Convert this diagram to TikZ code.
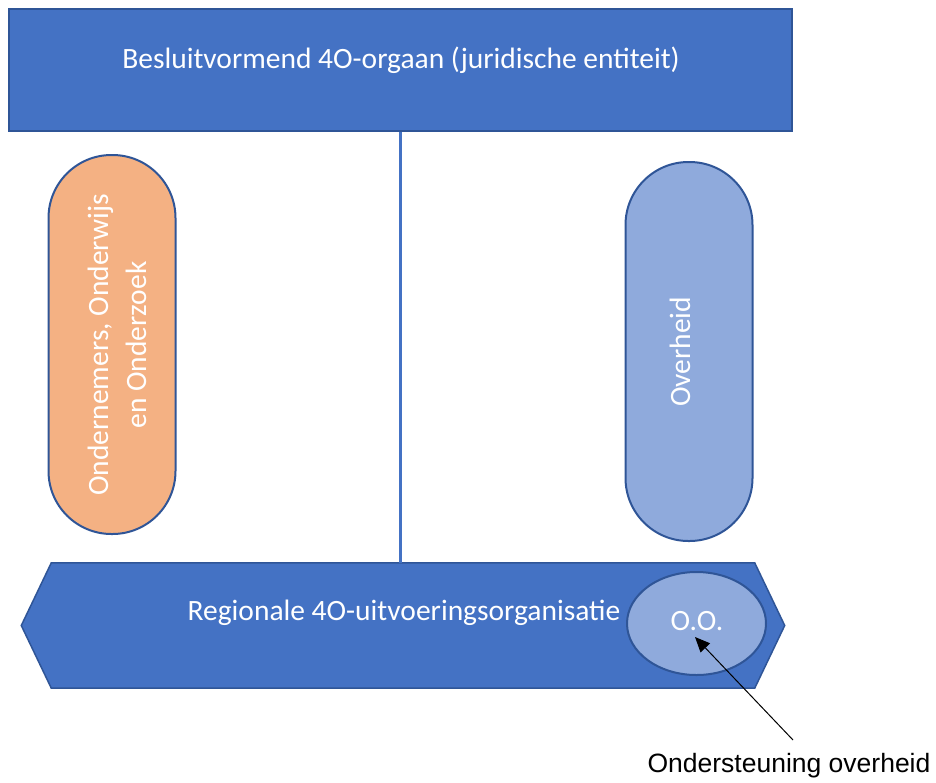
\documentclass[tikz,border=0pt]{standalone}
\usepackage{fontspec}
\usetikzlibrary{arrows.meta}
\setmainfont{Carlito}
\newfontfamily\arialf{Liberation Sans}
\definecolor{mainblue}{HTML}{4472C4}
\definecolor{darkblue}{HTML}{2F5597}
\definecolor{lightblue}{HTML}{8FAADC}
\definecolor{peach}{HTML}{F4B183}
\begin{document}
\begin{tikzpicture}[x=1pt,y=-1pt,
  boxstyle/.style={draw=darkblue, line width=1.5pt, fill=mainblue},
  pillstyle/.style={draw=darkblue, line width=2pt, minimum width=127pt, rounded corners=63pt, inner sep=0pt},
  wtext/.style={text=white, font=\fontsize{29.5}{38}\selectfont, align=center, inner sep=0pt},
  linkstyle/.style={draw=mainblue, line width=3.5pt}]
\useasboundingbox (0,0) rectangle (936,782);
% top box
\node[boxstyle, minimum width=783pt, minimum height=122pt, inner sep=0pt] (top) at (400.5,70) {};
\node[wtext] (toptxt) at (401,60) {Besluitvormend 4O-orgaan (juridische entiteit)};
% hexagon
\node[minimum width=763pt, minimum height=125pt, inner sep=0pt] (hex) at (403,625.5) {};
\draw[boxstyle] ([xshift=30pt]hex.north west) -- ([xshift=-30pt]hex.north east) -- (hex.east) -- ([xshift=-30pt]hex.south east) -- ([xshift=30pt]hex.south west) -- (hex.west) -- cycle;
\node[wtext] (hextxt) at (404,613) {Regionale 4O-uitvoeringsorganisatie};
% connector
\draw[linkstyle] (top.south) -- (top.south |- hex.north);
% pills
\node[pillstyle, fill=peach, minimum height=379pt] (left) at (112,344.5) {};
\node[wtext, rotate=90] (lefttxt) at (117,345) {Ondernemers, Onderwijs\\en Onderzoek};
\node[pillstyle, fill=lightblue, minimum height=379pt] (right) at (689,351.5) {};
\node[wtext, rotate=90] (righttxt) at (680,352) {Overheid};
% ellipse
\draw[draw=darkblue, line width=2pt, fill=lightblue] (696.5,623.5) ellipse [x radius=69.5pt, y radius=51.5pt];
\node[wtext] (oo) at (697,621) {O.O.};
% label and arrow
\node[text=black, font=\arialf\fontsize{26.5}{30}\selectfont, inner sep=0pt] (lab) at (789,766) {Ondersteuning overheid};
\coordinate (tail) at (793,740);
\coordinate (tip) at (695,637);
\draw[line width=1pt, -{Triangle[length=15pt, width=13pt]}] (tail) -- (tip);
\end{tikzpicture}
\end{document}
